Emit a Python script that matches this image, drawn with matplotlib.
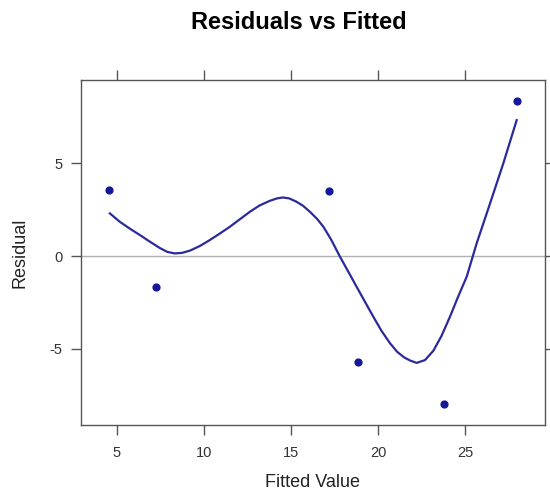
import matplotlib
matplotlib.use("Agg")
import matplotlib.pyplot as plt

plt.rcParams["font.family"] = ["Liberation Sans", "DejaVu Sans"]
plt.rcParams["axes.unicode_minus"] = False

# residuals (points)
fitted = [4.55, 7.25, 17.2, 18.85, 23.8, 28.0]
resid = [3.55, -1.68, 3.5, -5.7, -7.95, 8.33]

# smoother
smooth_x = [4.6, 5.17, 5.75, 6.32, 6.9, 7.47, 7.9, 8.33, 8.75, 9.2, 9.77, 10.34,
            10.9, 11.5, 12.07, 12.64, 13.2, 13.79, 14.2, 14.54, 14.9, 15.3, 15.7,
            16.09, 16.5, 16.86, 17.3, 17.82, 18.3, 18.77, 19.73, 20.2, 20.69, 21.1,
            21.5, 21.84, 22.22, 22.7, 23.18, 23.65, 24.14, 24.6, 25.1, 25.67, 26.44,
            27.2, 27.97]
smooth_y = [2.29, 1.84, 1.47, 1.13, 0.77, 0.43, 0.22, 0.14, 0.17, 0.29, 0.54, 0.86,
            1.2, 1.58, 1.98, 2.38, 2.72, 2.97, 3.1, 3.15, 3.1, 2.93, 2.7,
            2.38, 2.0, 1.58, 0.9, -0.04, -0.85, -1.65, -3.26, -4.02, -4.69, -5.15,
            -5.45, -5.62, -5.75, -5.6, -5.1, -4.3, -3.26, -2.2, -1.11, 0.68, 2.83,
            4.98, 7.31]

xticks = [5, 10, 15, 20, 25]
yticks = [-5, 0, 5]

fig = plt.figure(figsize=(5.5, 4.94), dpi=100)
ax = fig.add_axes([0.147, 0.1397, 0.844, 0.698])

ax.axhline(0, color="#b0b0b0", linewidth=1, zorder=1)
ax.plot(smooth_x, smooth_y, color="#2a2a9c", linewidth=1.6, zorder=2)
ax.scatter(fitted, resid, s=24, color="#16169a", zorder=3)

ax.set_xlim(2.93, 29.6)
ax.set_ylim(-9.09, 9.46)
ax.set_xticks(xticks)
ax.set_yticks(yticks)

for s in ax.spines.values():
    s.set_color("#555555")
    s.set_linewidth(1)
ax.tick_params(axis="both", direction="out", length=7, width=1, color="#555555",
               labelcolor="#333333", labelsize=10.5, pad=6,
               top=True, right=True, labeltop=False, labelright=False)
ax.tick_params(axis="x", pad=8)

ax.set_xlabel("Fitted Value", fontsize=13, color="#222222", va="center")
ax.set_ylabel("Residual", fontsize=13, color="#222222", va="center")
ax.xaxis.set_label_coords(0.5, -0.168)
ax.yaxis.set_label_coords(-0.131, 0.5)
fig.text(0.543, 0.955, "Residuals vs Fitted", fontsize=17, fontweight="bold",
         ha="center", va="center")

fig.savefig("out.png", dpi=100)
